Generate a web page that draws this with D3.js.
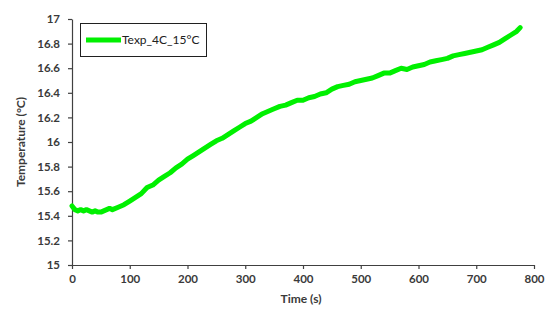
<!DOCTYPE html>
<html>
<head>
<meta charset="utf-8">
<script src="https://cdn.jsdelivr.net/npm/d3@7"></script>
<style>
  html, body { margin: 0; padding: 0; background: #ffffff; }
  svg { display: block; }
  .axis text { font-family: Lato, "Open Sans", sans-serif; font-weight: 700; font-size: 11.5px; fill: #3a3a3a; }
  .axis path, .axis line { stroke: #404040; stroke-width: 1.2; }
  .title { font-family: Lato, "Open Sans", sans-serif; font-weight: 700; font-size: 12px; fill: #3a3a3a; }
  .legend text { font-family: Lato, "Open Sans", sans-serif; font-size: 12px; fill: #202020; }
</style>
</head>
<body>
<div id="chart"></div>
<script>
// Measured temperature over time
const timeS = [0, 5, 10, 15, 20, 25, 30, 35, 40, 45, 50, 55, 60, 65, 70, 80, 90, 100, 110, 120,
  130, 140, 150, 160, 170, 180, 190, 200, 210, 220, 230, 240, 250, 260, 270, 280, 290, 300,
  310, 320, 330, 340, 350, 360, 370, 380, 390, 400, 410, 420, 430, 440, 450, 460, 470, 480,
  490, 500, 510, 520, 530, 540, 550, 560, 570, 580, 590, 600, 610, 620, 630, 640, 650, 660,
  670, 680, 690, 700, 710, 720, 730, 740, 750, 760, 770, 776];
const tempC = [15.48, 15.45, 15.44, 15.45, 15.44, 15.45, 15.44, 15.43, 15.44, 15.43, 15.43, 15.44, 15.45, 15.46, 15.45, 15.47, 15.49, 15.52, 15.55, 15.58,
  15.63, 15.65, 15.69, 15.72, 15.75, 15.79, 15.82, 15.86, 15.89, 15.92, 15.95, 15.98, 16.01, 16.03, 16.06, 16.09, 16.12, 16.15,
  16.17, 16.20, 16.23, 16.25, 16.27, 16.29, 16.30, 16.32, 16.34, 16.34, 16.36, 16.37, 16.39, 16.40, 16.43, 16.45, 16.46, 16.47,
  16.49, 16.50, 16.51, 16.52, 16.54, 16.56, 16.56, 16.58, 16.60, 16.59, 16.61, 16.62, 16.63, 16.65, 16.66, 16.67, 16.68, 16.70,
  16.71, 16.72, 16.73, 16.74, 16.75, 16.77, 16.79, 16.81, 16.84, 16.87, 16.90, 16.93];
const xTicks = [0, 100, 200, 300, 400, 500, 600, 700, 800];
const yTicks = [15, 15.2, 15.4, 15.6, 15.8, 16, 16.2, 16.4, 16.6, 16.8, 17];
const seriesName = "Texp_4C_15°C";

const W = 545, H = 321;
const margin = { left: 72, right: 11, top: 19, bottom: 56 };

const svg = d3.select("#chart").append("svg").attr("width", W).attr("height", H);

const x = d3.scaleLinear().domain([0, 800]).range([margin.left, W - margin.right]);
const y = d3.scaleLinear().domain([15, 17]).range([H - margin.bottom, margin.top]);

// axes
svg.append("g").attr("class", "axis")
  .attr("transform", `translate(0,${H - margin.bottom})`)
  .call(d3.axisBottom(x).tickValues(xTicks).tickSize(4).tickSizeOuter(0).tickPadding(6).tickFormat(d3.format("d")));

svg.append("g").attr("class", "axis")
  .attr("transform", `translate(${margin.left},0)`)
  .call(d3.axisLeft(y).tickValues(yTicks).tickSize(4).tickSizeOuter(0).tickPadding(8).tickFormat(d => String(+d.toFixed(1))));

// axis titles
svg.append("text").attr("class", "title")
  .attr("x", 301).attr("y", 303).attr("text-anchor", "middle").text("Time (s)");
svg.append("text").attr("class", "title")
  .attr("transform", `translate(25,${142}) rotate(-90)`)
  .attr("text-anchor", "middle").text("Temperature (°C)");

// data line
const pts = timeS.map((t, i) => [t, tempC[i]]);
svg.append("path")
  .datum(pts)
  .attr("fill", "none")
  .attr("stroke", "#00f000")
  .attr("stroke-width", 5)
  .attr("stroke-linejoin", "round")
  .attr("stroke-linecap", "round")
  .attr("d", d3.line().x(d => x(d[0])).y(d => y(d[1])));

// legend
const lg = svg.append("g").attr("class", "legend");
lg.append("rect").attr("x", 80.5).attr("y", 23.5).attr("width", 126).attr("height", 33)
  .attr("fill", "#ffffff").attr("stroke", "#202020").attr("stroke-width", 1);
lg.append("line").attr("x1", 86).attr("x2", 121).attr("y1", 40).attr("y2", 40)
  .attr("stroke", "#00f000").attr("stroke-width", 5);
lg.append("text").attr("x", 122).attr("y", 44).text(seriesName);
</script>
</body>
</html>
